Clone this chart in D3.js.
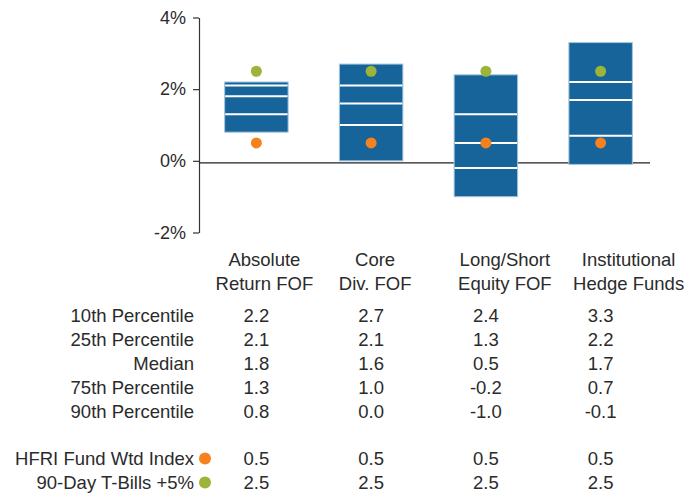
<!DOCTYPE html>
<html>
<head>
<meta charset="utf-8">
<script src="https://cdn.jsdelivr.net/npm/d3@7"></script>
<style>
  html, body { margin: 0; padding: 0; background: #fff; }
  svg { display: block; font-family: "Liberation Sans", Arial, sans-serif; }
</style>
</head>
<body>
<svg id="chart" width="699" height="495"></svg>
<script>
// Fund groups (two-line headers)
const categories = ["Absolute Return FOF", "Core Div. FOF", "Long/Short Equity FOF", "Institutional Hedge Funds"];
const headerLines = [["Absolute", "Return FOF"], ["Core", "Div. FOF"], ["Long/Short", "Equity FOF"], ["Institutional", "Hedge Funds"]];

// Percentile returns (%)
const p10 = [2.2, 2.7, 2.4, 3.3];
const p25 = [2.1, 2.1, 1.3, 2.2];
const median = [1.8, 1.6, 0.5, 1.7];
const p75 = [1.3, 1.0, -0.2, 0.7];
const p90 = [0.8, 0.0, -1.0, -0.1];

// Benchmarks (%)
const hfri = [0.5, 0.5, 0.5, 0.5];
const tbills = [2.5, 2.5, 2.5, 2.5];

// Axis ticks
const yTicks = [-2, 0, 2, 4];

const rowLabels = ["10th Percentile", "25th Percentile", "Median", "75th Percentile", "90th Percentile"];
const rowSeries = [p10, p25, median, p75, p90];

const BAR = "#17649a", BAR_EDGE = "#a3c3de", ORANGE = "#f5821f", GREEN = "#9cb43a", TEXT = "#2b2b2b";
const FS = 18.5;

const svg = d3.select("#chart");

const x = d3.scaleBand().domain(categories).range([199, 658]).paddingInner(0.447).paddingOuter(0.2235);
const y = d3.scaleLinear().domain([-2, 4]).range([232.5, 17.5]);

// Y axis
const yAxis = svg.append("g")
  .attr("transform", "translate(199,0)")
  .call(d3.axisLeft(y).tickValues(yTicks).tickSize(6).tickSizeOuter(0).tickPadding(7)
        .tickFormat(d => d + "%"));
yAxis.select(".domain").attr("stroke", "#333").attr("stroke-width", 1.2);
yAxis.selectAll(".tick line").attr("stroke", "#333").attr("stroke-width", 1.2);
yAxis.selectAll(".tick text").attr("font-size", 18).attr("fill", TEXT)
  .attr("font-family", "'Liberation Sans', Arial, sans-serif");

// Zero line
svg.append("line")
  .attr("x1", 199).attr("x2", 650)
  .attr("y1", y(0) + 2).attr("y2", y(0) + 2)
  .attr("stroke", "#222").attr("stroke-width", 1.3);

// Percentile boxes
const groups = svg.append("g").selectAll("g").data(categories).join("g");
groups.append("rect")
  .attr("x", d => x(d))
  .attr("width", x.bandwidth())
  .attr("y", (d, i) => y(p10[i]))
  .attr("height", (d, i) => y(p90[i]) - y(p10[i]))
  .attr("fill", BAR)
  .attr("stroke", BAR_EDGE)
  .attr("stroke-width", 1);

[p25, median, p75].forEach(series => {
  groups.append("line")
    .attr("x1", d => x(d) + 0.5)
    .attr("x2", d => x(d) + x.bandwidth() - 0.5)
    .attr("y1", (d, i) => y(series[i]))
    .attr("y2", (d, i) => y(series[i]))
    .attr("stroke", "#ffffff")
    .attr("stroke-width", 2);
});

// Benchmark dots
groups.append("circle")
  .attr("cx", d => x(d) + x.bandwidth() / 2)
  .attr("cy", (d, i) => y(tbills[i]))
  .attr("r", 5.5).attr("fill", GREEN);
groups.append("circle")
  .attr("cx", d => x(d) + x.bandwidth() / 2)
  .attr("cy", (d, i) => y(hfri[i]))
  .attr("r", 5.5).attr("fill", ORANGE);

// Table below the chart
const table = svg.append("g").attr("font-size", FS).attr("fill", TEXT);
const cx = d => x(d) + x.bandwidth() / 2;

// header cells sit in slightly wider table columns than the value cells
const headerNudge = [8, 4, 19, 28];
headerLines.forEach((lines, i) => {
  lines.forEach((t, j) => {
    table.append("text")
      .attr("x", cx(categories[i]) + headerNudge[i])
      .attr("y", 266 + j * 24)
      .attr("text-anchor", "middle")
      .text(t);
  });
});

// one decimal, plain hyphen for negatives
const fmt = v => v.toFixed(1);
const labelX = 194;

rowSeries.forEach((series, r) => {
  const by = 321.5 + r * 24;
  table.append("text").attr("x", labelX).attr("y", by).attr("text-anchor", "end").text(rowLabels[r]);
  series.forEach((v, i) => {
    table.append("text").attr("x", cx(categories[i])).attr("y", by)
      .attr("text-anchor", "middle").text(fmt(v));
  });
});

const benchRows = [
  { label: "HFRI Fund Wtd Index", values: hfri, color: ORANGE, by: 464.5 },
  { label: "90-Day T-Bills +5%", values: tbills, color: GREEN, by: 488.5 }
];
benchRows.forEach(row => {
  table.append("text").attr("x", labelX).attr("y", row.by).attr("text-anchor", "end").text(row.label);
  table.append("circle").attr("cx", 205).attr("cy", row.by - 6).attr("r", 6).attr("fill", row.color);
  row.values.forEach((v, i) => {
    table.append("text").attr("x", cx(categories[i])).attr("y", row.by)
      .attr("text-anchor", "middle").text(fmt(v));
  });
});
</script>
</body>
</html>
